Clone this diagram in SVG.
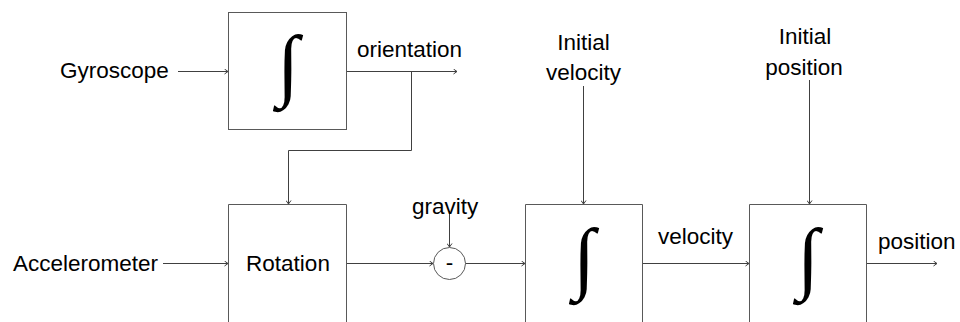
<svg xmlns="http://www.w3.org/2000/svg" width="960" height="322" viewBox="0 0 960 322">
<style>
.box{fill:#fff;stroke:#595959;stroke-width:1}
.ln{fill:none;stroke:#404040;stroke-width:1}
.lbl{font-family:"Liberation Sans",Arial,sans-serif;font-size:22.5px;fill:#000}
.int{font-family:"Liberation Serif","Times New Roman",serif;font-size:80px;fill:#000;text-anchor:middle}
</style>
<defs>
<marker id="arr" markerWidth="6" markerHeight="6" refX="4" refY="3" orient="auto" markerUnits="userSpaceOnUse">
<path d="M0.5,0.5 L4,3 L0.5,5.5" fill="none" stroke="#404040" stroke-width="1"/>
</marker>
</defs>
<rect width="960" height="322" fill="#fff"/>
<g id="connectors">
<line class="ln" x1="178" y1="71.5" x2="228" y2="71.5" marker-end="url(#arr)"/>
<line class="ln" x1="347" y1="71.5" x2="457" y2="71.5" marker-end="url(#arr)"/>
<polyline class="ln" points="411.5,71.5 411.5,150.5 288.5,150.5 288.5,204" marker-end="url(#arr)"/>
<line class="ln" x1="163" y1="263.5" x2="228" y2="263.5" marker-end="url(#arr)"/>
<line class="ln" x1="347" y1="263.5" x2="433" y2="263.5" marker-end="url(#arr)"/>
<line class="ln" x1="449.5" y1="211" x2="449.5" y2="247" marker-end="url(#arr)"/>
<line class="ln" x1="465" y1="263.5" x2="525" y2="263.5" marker-end="url(#arr)"/>
<line class="ln" x1="583.5" y1="86" x2="583.5" y2="204" marker-end="url(#arr)"/>
<line class="ln" x1="643" y1="263.5" x2="749" y2="263.5" marker-end="url(#arr)"/>
<line class="ln" x1="809.5" y1="80" x2="809.5" y2="204" marker-end="url(#arr)"/>
<line class="ln" x1="867" y1="263.5" x2="937" y2="263.5" marker-end="url(#arr)"/>
</g>
<g id="gyroscope"><text class="lbl" x="60" y="78">Gyroscope</text></g>
<g id="integrator1">
<rect class="box" x="228.5" y="12.5" width="118" height="117"/>
<text class="int" x="288" y="91">∫</text>
</g>
<g id="orientation"><text class="lbl" x="357" y="57">orientation</text></g>
<g id="accelerometer"><text class="lbl" x="13" y="271">Accelerometer</text></g>
<g id="rotation">
<path class="box" d="M228.5,330 V204.5 H346.5 V330"/>
<text class="lbl" x="288" y="271" text-anchor="middle">Rotation</text>
</g>
<g id="gravity"><text class="lbl" x="412" y="214">gravity</text></g>
<g id="subtract">
<circle class="box" cx="449.5" cy="263.5" r="16"/>
<text class="lbl" x="449.5" y="270" text-anchor="middle">-</text>
</g>
<g id="initial-velocity">
<text class="lbl" x="583.5" y="50" text-anchor="middle">Initial</text>
<text class="lbl" x="583.5" y="80" text-anchor="middle">velocity</text>
</g>
<g id="integrator2">
<path class="box" d="M525.5,330 V204.5 H642.5 V330"/>
<text class="int" x="584" y="284">∫</text>
</g>
<g id="velocity"><text class="lbl" x="658" y="244">velocity</text></g>
<g id="initial-position">
<text class="lbl" x="805" y="44" text-anchor="middle">Initial</text>
<text class="lbl" x="804" y="75" text-anchor="middle">position</text>
</g>
<g id="integrator3">
<path class="box" d="M749.5,330 V204.5 H866.5 V330"/>
<text class="int" x="808" y="284">∫</text>
</g>
<g id="position"><text class="lbl" x="878" y="249">position</text></g>
</svg>
